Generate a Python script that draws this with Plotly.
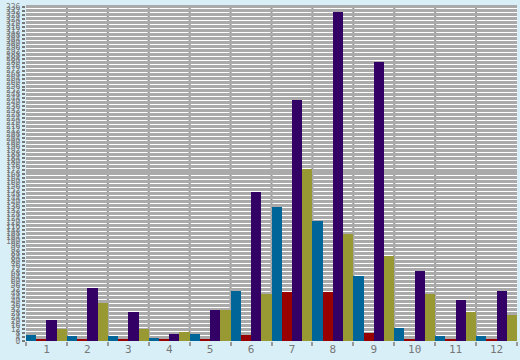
import plotly.graph_objects as go

categories = ["1", "2", "3", "4", "5", "6", "7", "8", "9", "10", "11", "12"]
series_names = ["Series A", "Series B", "Series C", "Series D"]
blue_vals = [6, 5, 5, 3, 7, 50, 135, 121, 65, 13, 5, 5]
red_vals = [2, 2, 2, 2, 2, 6, 49, 49, 8, 2, 2, 2]
purple_vals = [21, 53, 29, 7, 31, 150, 242, 331, 281, 70, 41, 50]
olive_vals = [12, 38, 12, 9, 31, 47, 173, 108, 86, 47, 29, 26]
y_tick_vals = list(range(0, 340, 4))

colors = ["#006699", "#990000", "#330066", "#999933"]
fig = go.Figure()
for name, vals, c in zip(series_names, [blue_vals, red_vals, purple_vals, olive_vals], colors):
    fig.add_trace(go.Bar(x=categories, y=vals, name=name, marker=dict(color=c, line=dict(width=0))))

# separators at category group boundaries (seen through the gaps of the dense grid)
for i in range(1, len(categories)):
    fig.add_shape(type="line", xref="x", yref="paper", x0=i - 0.5, x1=i - 0.5, y0=0, y1=1,
                  line=dict(color="#999999", width=2), layer="below")

fig.update_layout(
    width=520, height=360,
    margin=dict(l=26, r=3, t=3, b=19),
    paper_bgcolor="#d9eff7",
    plot_bgcolor="#ffffff",
    barmode="group", bargap=0, bargroupgap=0,
    showlegend=False,
    font=dict(family="DejaVu Sans Mono", color="#777777"),
)
fig.update_xaxes(
    type="category", tickson="boundaries", ticks="outside", ticklen=4, tickwidth=2,
    tickcolor="#999999", showgrid=False,
    tickfont=dict(size=11, color="#777777"), showline=False, zeroline=False,
)
fig.update_yaxes(
    range=[0, 338], tickmode="array", tickvals=y_tick_vals, ticktext=[str(v) for v in y_tick_vals],
    ticks="outside", ticklen=3, tickwidth=2, tickcolor="#777777",
    showgrid=True, gridcolor="#aaaaaa", gridwidth=2.5, zeroline=False, showline=False,
    tickfont=dict(size=8, color="#777777"),
)
fig.write_html("out.html")
